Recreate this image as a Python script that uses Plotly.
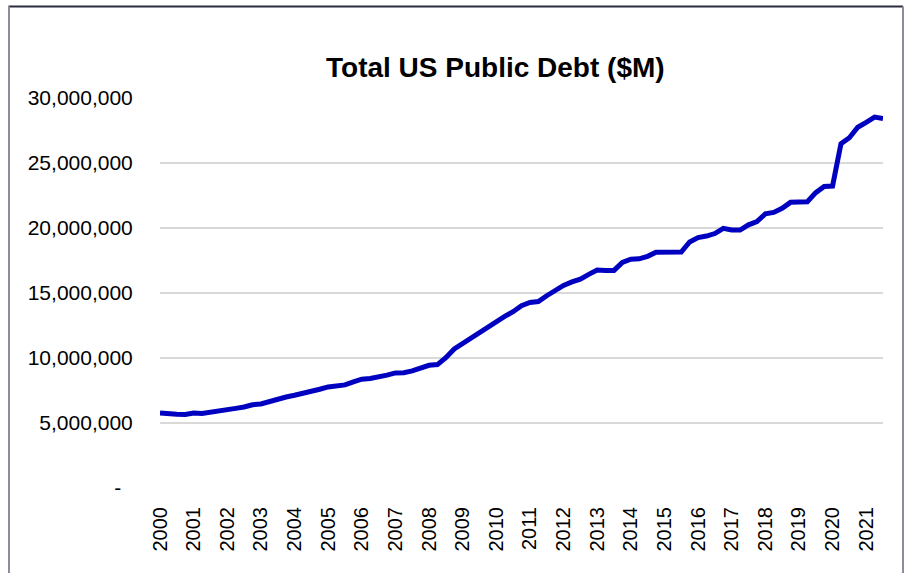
import plotly.graph_objects as go

# Quarterly total public debt, $ millions, 2000 Q1 through 2021 Q3
debt_2000_2004 = [5773392, 5685938, 5674178, 5662216,
                  5773740, 5726815, 5807463, 5943439,
                  6006032, 6126469, 6228236, 6405707,
                  6460776, 6670121, 6783231, 6998003,
                  7131068, 7274335, 7379053, 7596144]
debt_2005_2009 = [7776939, 7836496, 7932710, 8170414,
                  8371156, 8420042, 8507024, 8680224,
                  8849665, 8867678, 9007653, 9229172,
                  9437594, 9492006, 10024725, 10699805,
                  11126941, 11545275, 11909829, 12311350]
debt_2010_2014 = [12773123, 13201790, 13561623, 14025215,
                  14270114, 14343087, 14790340, 15222940,
                  15582336, 15855512, 16066241, 16432730,
                  16771403, 16738184, 16738184, 17352006,
                  17601227, 17632606, 17824071, 18141444]
debt_2015_2019 = [18152056, 18152165, 18150620, 18922179,
                  19264939, 19381591, 19573445, 19976827,
                  19846420, 19844554, 20244900, 20492874,
                  21089643, 21195070, 21516058, 21974096,
                  22027880, 22023283, 22719402, 23201380]
debt_2020_2021 = [23223813, 26477219, 26945391, 27747798,
                  28132570, 28529436, 28428919]

debt = debt_2000_2004 + debt_2005_2009 + debt_2010_2014 + debt_2015_2019 + debt_2020_2021
quarters = [2000 + i / 4 for i in range(len(debt))]

year_ticks = list(range(2000, 2022))
year_labels = [str(y) for y in year_ticks]
y_ticks = [0, 5000000, 10000000, 15000000, 20000000, 25000000, 30000000]
y_labels = ["-\u00a0\u00a0", "5,000,000", "10,000,000", "15,000,000",
            "20,000,000", "25,000,000", "30,000,000"]

W, H = 906, 573
L, R, T, B = 160, 23, 98, 85
pw, ph = W - L - R, H - T - B


def px(x):
    return (x - L) / pw


def py(y):
    return (H - B - y) / ph


font_family = "Arial, Liberation Sans, sans-serif"

fig = go.Figure()
fig.add_trace(go.Scatter(
    x=quarters, y=debt, mode="lines",
    line=dict(color="#0000C0", width=5),
    hoverinfo="skip", showlegend=False,
))

fig.update_layout(
    width=W, height=H,
    margin=dict(l=L, r=R, t=T, b=B),
    paper_bgcolor="white", plot_bgcolor="white",
    font=dict(family=font_family, color="#000000"),
    xaxis=dict(
        range=[2000, quarters[-1]], tickmode="array",
        tickvals=year_ticks, ticktext=year_labels,
        tickangle=-90, tickfont=dict(size=20),
        showgrid=False, zeroline=False, showline=False,
        ticks="outside", ticklen=10, tickcolor="rgba(0,0,0,0)",
    ),
    yaxis=dict(
        range=[0, 30000000], tickmode="array",
        tickvals=y_ticks, ticktext=y_labels,
        tickfont=dict(size=21),
        showgrid=True, gridcolor="#D9D9D9", gridwidth=2,
        zeroline=False, showline=False,
        ticks="outside", ticklen=22, tickcolor="rgba(0,0,0,0)",
    ),
    annotations=[dict(
        text="<b>Total US Public Debt ($M)</b>",
        x=px(495), y=py(67), xref="paper", yref="paper",
        xanchor="center", yanchor="middle", showarrow=False,
        font=dict(size=28, family=font_family, color="#000000"),
    )],
    shapes=[
        # chart frame
        dict(type="line", xref="paper", yref="paper",
             x0=px(8.5), x1=px(903), y0=py(6.5), y1=py(6.5),
             line=dict(color="#2B2D3F", width=2)),
        dict(type="line", xref="paper", yref="paper",
             x0=px(9), x1=px(9), y0=py(6.5), y1=py(H + 5),
             line=dict(color="#8E8B9C", width=2)),
        dict(type="line", xref="paper", yref="paper",
             x0=px(903), x1=px(903), y0=py(6.5), y1=py(H + 5),
             line=dict(color="#8E8B9C", width=2)),
    ],
)

fig.write_html("out.html")
